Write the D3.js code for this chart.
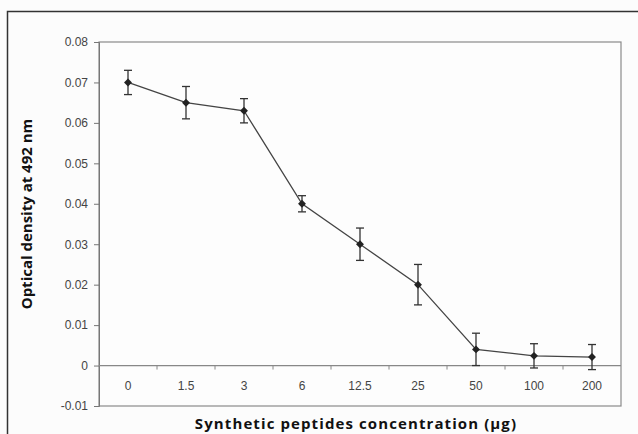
<!DOCTYPE html>
<html>
<head>
<meta charset="utf-8">
<script src="https://cdnjs.cloudflare.com/ajax/libs/d3/7.8.5/d3.min.js"></script>
<style>
  body { margin: 0; background: #fff; }
  .lab { font-family: "Liberation Sans", Arial, sans-serif; font-size: 12px; fill: #444; }
  .title { font-family: "Open Sans", sans-serif; font-weight: bold; font-size: 15px; fill: #111; }
</style>
</head>
<body>
<div id="chart"></div>
<script>

// Data
var concentrations = ["0", "1.5", "3", "6", "12.5", "25", "50", "100", "200"];
var density = [0.070, 0.065, 0.063, 0.040, 0.030, 0.020, 0.004, 0.0024, 0.0021];
var errors = [0.003, 0.004, 0.003, 0.002, 0.004, 0.005, 0.004, 0.003, 0.0031];
var yTicks = [-0.01, 0, 0.01, 0.02, 0.03, 0.04, 0.05, 0.06, 0.07, 0.08];

var W = 638, H = 434;
var margin = {top: 42, right: 17, bottom: 28, left: 99},
    width = W - margin.left - margin.right,
    height = H - margin.top - margin.bottom;

var svg = d3.select("#chart").append("svg")
    .attr("width", W).attr("height", H);

// page background + outer frame (only top/left fall inside picture)
svg.append("rect").attr("width", W).attr("height", H).attr("fill", "#fcfcfc");
svg.append("path")
    .attr("d", "M7.5," + H + "V11.5H" + W)
    .attr("fill", "none").attr("stroke", "#333").attr("stroke-width", 1.5);

var g = svg.append("g")
    .attr("transform", "translate(" + margin.left + "," + margin.top + ")");

var x = d3.scaleBand().domain(concentrations).range([0, width]);
var y = d3.scaleLinear().domain([-0.01, 0.08]).range([height, 0]);

// plot frame
g.append("rect")
    .attr("width", width).attr("height", height)
    .attr("fill", "#fdfdfd").attr("stroke", "#8a8a8a").attr("stroke-width", 1.2);

// y axis
var yAxis = g.append("g")
    .call(d3.axisLeft(y).tickValues(yTicks).tickSize(5).tickPadding(6)
        .tickFormat(function(d) { return d === 0 ? "0" : d3.format(".2f")(d).replace("\u2212", "-"); }));
yAxis.attr("font-family", null).attr("font-size", null);
yAxis.select(".domain").attr("stroke", "#777");
yAxis.selectAll(".tick line").attr("stroke", "#777");
yAxis.selectAll(".tick text").attr("class", "lab").attr("fill", null);

// x axis along zero line, ticks on band boundaries
var xAxisG = g.append("g").attr("transform", "translate(0," + y(0) + ")");
xAxisG.append("line")
    .attr("x1", 0).attr("x2", width)
    .attr("stroke", "#888").attr("stroke-width", 1.2);
xAxisG.selectAll(".bound")
    .data(concentrations.slice(1))
    .enter().append("line")
    .attr("class", "bound")
    .attr("x1", function(d) { return x(d); })
    .attr("x2", function(d) { return x(d); })
    .attr("y1", 0).attr("y2", 4)
    .attr("stroke", "#888");
xAxisG.selectAll(".xlab")
    .data(concentrations)
    .enter().append("text")
    .attr("class", "lab")
    .attr("x", function(d) { return x(d) + x.bandwidth() / 2; })
    .attr("y", 24)
    .attr("text-anchor", "middle")
    .text(function(d) { return d; });

var pts = concentrations.map(function(c, i) {
  return {c: c, v: density[i], e: errors[i]};
});
var cx = function(d) { return x(d.c) + x.bandwidth() / 2; };

// connecting line
g.append("path")
    .datum(pts)
    .attr("fill", "none")
    .attr("stroke", "#444")
    .attr("stroke-width", 1.3)
    .attr("d", d3.line().x(cx).y(function(d) { return y(d.v); }));

// error bars
var eb = g.selectAll(".err").data(pts).enter().append("g").attr("class", "err")
    .attr("stroke", "#333").attr("stroke-width", 1.3);
eb.append("line")
    .attr("x1", cx).attr("x2", cx)
    .attr("y1", function(d) { return y(d.v + d.e); })
    .attr("y2", function(d) { return y(d.v - d.e); });
eb.append("line")
    .attr("x1", function(d) { return cx(d) - 4; }).attr("x2", function(d) { return cx(d) + 4; })
    .attr("y1", function(d) { return y(d.v + d.e); })
    .attr("y2", function(d) { return y(d.v + d.e); });
eb.append("line")
    .attr("x1", function(d) { return cx(d) - 4; }).attr("x2", function(d) { return cx(d) + 4; })
    .attr("y1", function(d) { return y(d.v - d.e); })
    .attr("y2", function(d) { return y(d.v - d.e); });

// diamond markers
g.selectAll(".pt").data(pts).enter().append("path")
    .attr("class", "pt")
    .attr("transform", function(d) { return "translate(" + cx(d) + "," + y(d.v) + ")"; })
    .attr("d", d3.symbol().type(d3.symbolDiamond2).size(40))
    .attr("fill", "#222");

// axis titles
svg.append("text")
    .attr("class", "title")
    .attr("x", 356)
    .attr("y", 429)
    .attr("text-anchor", "middle")
    .style("letter-spacing", "1.1px")
    .text("Synthetic peptides concentration (µg)");

svg.append("text")
    .attr("class", "title")
    .attr("transform", "translate(32,214) rotate(-90)")
    .attr("text-anchor", "middle")
    .text("Optical density at 492 nm");

</script>
</body>
</html>
